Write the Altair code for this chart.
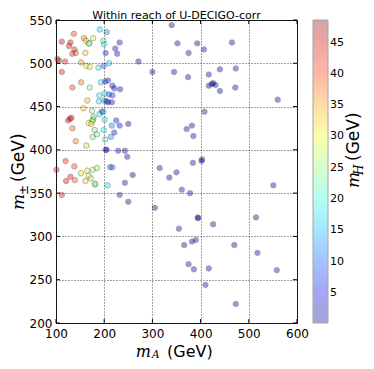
import altair as alt
import pandas as pd

# ---- data ----
mA = [340, 352, 375, 393, 407, 465, 271, 300, 345, 374, 417, 440, 473,
      417, 423, 426, 431, 440, 472, 560, 408, 371, 382, 385, 403, 402,
      315, 335, 350, 384, 259, 232, 250, 243, 305, 361, 378,
      394, 395, 426, 355, 366, 382, 390, 470, 375, 386, 417, 410, 473,
      551, 515, 518, 558, 250, 243, 248,
      191, 205, 177, 158, 162, 169, 168, 112, 130, 127, 137, 198, 200, 232,
      223, 203, 227, 138, 141, 134, 161, 103, 106, 119, 152, 163, 170, 188,
      199, 210, 112, 193, 202, 208, 217, 221, 233, 152, 170, 134, 201, 190,
      210, 217, 165, 200, 205, 208, 216, 189, 157, 175, 195, 198, 190, 178,
      177, 129, 132, 125, 175, 168, 173, 201, 225, 216, 232, 134, 180, 199,
      221, 176, 185, 214, 141, 202, 163, 203, 205, 229, 120, 138, 101, 130,
      152, 165, 176, 185, 121, 139, 161, 168, 172, 181, 181, 207, 212, 217,
      112]
m_pm = [544, 523, 512, 523, 516, 524, 502, 490, 490, 484, 487, 493, 494,
        474, 476, 477, 475, 468, 472, 458, 444, 424, 428, 416, 389, 387,
        379, 368, 374, 385, 371, 348, 340, 362, 333, 354, 350,
        322, 321, 314, 309, 290, 294, 296, 290, 268, 262, 263, 244, 222,
        359, 322, 281, 261, 430, 399, 392,
        539, 536, 529, 529, 526, 523, 523, 525, 524, 520, 534, 526, 522, 524,
        517, 512, 511, 516, 512, 511, 512, 505, 503, 502, 501, 497, 496, 495,
        497, 500, 490, 478, 479, 480, 474, 471, 470, 478, 472, 472, 465, 463,
        464, 463, 457, 457, 456, 455, 455, 456, 448, 445, 444, 444, 441, 438,
        435, 436, 437, 434, 433, 431, 430, 435, 434, 428, 428, 425, 423, 423,
        420, 415, 418, 415, 410, 412, 405, 400, 400, 399, 387, 381, 377, 369,
        373, 376, 377, 379, 364, 365, 364, 370, 367, 360, 361, 359, 380, 380,
        348]
m_H = [2] * 57 + [
    17, 12, 28, 36, 32, 25, 24, 44, 43, 44, 40, 22, 19, 6,
    6, 7, 6, 42, 38, 41, 32, 45, 44, 43, 36, 31, 29, 19,
    10, 17, 43, 18, 8, 7, 6, 6, 5, 37, 25, 40, 18, 19,
    10, 8, 34, 14, 8, 7, 6, 18, 32, 26, 6, 16, 19, 24,
    24, 43, 42, 44, 28, 31, 30, 18, 6, 13, 6, 38, 24, 19,
    7, 24, 23, 14, 37, 21, 32, 6, 5, 6, 42, 40, 44, 43,
    32, 31, 26, 25, 43, 39, 32, 29, 27, 24, 25, 18, 12, 10,
    44]

x_ticks = [100, 200, 300, 400, 500, 600]
y_ticks = [200, 250, 300, 350, 400, 450, 500, 550]
cbar_ticks = [5, 10, 15, 20, 25, 30, 35, 40, 45]
cbar_domain = [0.2, 48.6]
jet = ["#00007f", "#0000ff", "#007fff", "#00ffff", "#7fff7f",
       "#ffff00", "#ff7f00", "#ff0000", "#7f0000"]

title_text = "Within reach of U-DECIGO-corr"
sym_m = "m"
sub_A = "A"
sub_pm = "±"
sub_H = "H"
unit = "(GeV)"

df = pd.DataFrame({"mA": mA, "mpm": m_pm, "mH": m_H})
xt = pd.DataFrame({"mA": x_ticks})
yt = pd.DataFrame({"mpm": y_ticks})

W, H = 241, 303
FONT = "DejaVu Sans"
SERIF = "DejaVu Serif"
TL = 4  # inward tick length

xscale = alt.Scale(domain=[100, 600], nice=False, zero=False)
yscale = alt.Scale(domain=[200, 550], nice=False, zero=False)

points = alt.Chart(df).mark_circle(
    size=30, opacity=0.4, stroke="black", strokeWidth=0.7
).encode(
    x=alt.X("mA:Q", scale=xscale,
            axis=alt.Axis(values=x_ticks, title=None, grid=True, domain=False,
                          ticks=False, labelPadding=5, labelFontSize=12,
                          labelFont=FONT, labelColor="black",
                          gridColor="#444", gridDash=[1, 2], gridWidth=1,
                          labelFlush=False)),
    y=alt.Y("mpm:Q", scale=yscale,
            axis=alt.Axis(values=y_ticks, title=None, grid=True, domain=False,
                          ticks=False, labelPadding=4, labelFontSize=12,
                          labelFont=FONT, labelColor="black",
                          gridColor="#444", gridDash=[1, 2], gridWidth=1,
                          labelFlush=False)),
    color=alt.Color("mH:Q",
                    scale=alt.Scale(domain=cbar_domain, range=jet,
                                    interpolate="rgb", nice=False, zero=False,
                                    clamp=True),
                    legend=alt.Legend(title=None, orient="right", offset=16,
                                      padding=0, gradientLength=H,
                                      gradientThickness=15,
                                      values=cbar_ticks, labelFontSize=11,
                                      labelFont=FONT, labelColor="black",
                                      labelOffset=2, gradientOpacity=0.35,
                                      gradientStrokeColor="black",
                                      gradientStrokeWidth=1))
)

# inward ticks on all four sides of the frame
tick_bottom = alt.Chart(xt).mark_rule(color="black", strokeWidth=1).encode(
    x=alt.X("mA:Q", scale=xscale), y=alt.value(H), y2=alt.value(H - TL))
tick_top = alt.Chart(xt).mark_rule(color="black", strokeWidth=1).encode(
    x=alt.X("mA:Q", scale=xscale), y=alt.value(0), y2=alt.value(TL))
tick_left = alt.Chart(yt).mark_rule(color="black", strokeWidth=1).encode(
    y=alt.Y("mpm:Q", scale=yscale), x=alt.value(0), x2=alt.value(TL))
tick_right = alt.Chart(yt).mark_rule(color="black", strokeWidth=1).encode(
    y=alt.Y("mpm:Q", scale=yscale), x=alt.value(W - TL), x2=alt.value(W))


def txt(s, x, y, size, font=FONT, style="normal", angle=0, align="center",
        baseline="alphabetic"):
    kw = dict(fontSize=size, font=font, fontStyle=style, align=align,
              baseline=baseline, color="black")
    if angle:
        kw["angle"] = angle
    return alt.Chart(pd.DataFrame({"t": [s]})).mark_text(**kw).encode(
        x=alt.value(x), y=alt.value(y), text="t:N")


layers = [
    points, tick_bottom, tick_top, tick_left, tick_right,
    txt(title_text, W / 2, -1.5, 11),
    # x axis title
    txt(sym_m, 95, 336.5, 16, SERIF, "italic", align="right"),
    txt(sub_A, 96, 338, 10.5, SERIF, "italic", align="left"),
    txt(unit, 111, 336.5, 16, align="left"),
    # y axis title (rotated)
    txt(sym_m, -32, 190, 17, SERIF, "italic", angle=270, align="left"),
    txt(sub_pm, -28, 175, 12, SERIF, "italic", angle=270, align="left"),
    txt(unit, -32, 162, 17, angle=270, align="left"),
    # colorbar title (rotated)
    txt(sym_m, 303, 168, 17, SERIF, "italic", angle=270, align="left"),
    txt(sub_H, 307, 155, 12, SERIF, "italic", angle=270, align="left"),
    txt(unit, 303, 141, 17, angle=270, align="left"),
]

chart = alt.layer(*layers).properties(
    width=W, height=H,
    autosize=alt.AutoSizeParams(type="none"),
    padding={"left": 48, "top": 12, "right": 69, "bottom": 38},
).configure_view(stroke="black", strokeWidth=1)

chart.save("out.html", embed_options={"renderer": "svg", "actions": False})
